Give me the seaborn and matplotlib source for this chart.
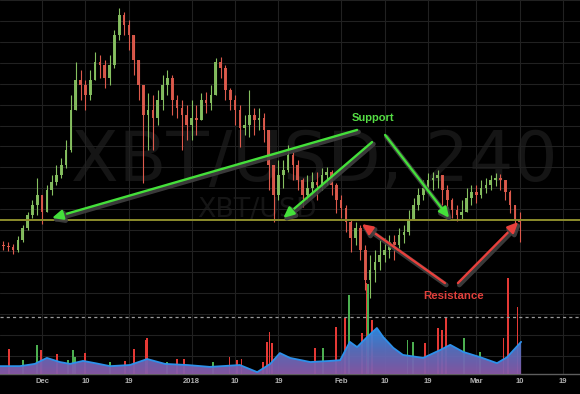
import numpy as np
import pandas as pd
import matplotlib
matplotlib.use("Agg")
import matplotlib.pyplot as plt
import matplotlib.patheffects as pe
from matplotlib.colors import LinearSegmentedColormap
import seaborn as sns

# ---------------- data (day 0 = 2017-12-01, daily candles, XBT/USD) ----------------
days = list(range(-9, 100))
close = [8290, 8240, 8190, 8050, 8530, 9100, 9720, 10200, 10680, 9870,
         10920, 11300, 11640, 12110, 12830, 14740, 16180, 15940, 15460, 16180,
         17040, 16890, 16270, 16890, 18330, 19280, 18800, 18330, 17130, 15940,
         14500, 14740, 14360, 15220, 15940, 16270, 15220, 14840, 14500, 14030,
         14360, 14260, 15220, 15080, 15460, 17040, 16750, 15700, 15220, 14740,
         13880, 14030, 14500, 14260, 14360, 13790, 12110, 10680, 11640, 11870,
         12590, 12110, 11400, 10680, 11010, 11300, 11160, 11640, 11780, 11160,
         10440, 10060, 9390, 8620, 9100, 8050, 6620, 7090, 7480, 7810,
         8050, 8430, 8290, 8770, 8910, 9480, 10200, 10680, 11010, 11400,
         11490, 11640, 10920, 10440, 9960, 9720, 9870, 10540, 10820, 10680,
         11010, 11160, 11400, 11490, 11400, 10820, 10200, 9480, 9390]
high = [8530, 8480, 8430, 8340, 8720, 9250, 9870, 10440, 11490, 10680,
        11160, 11640, 12110, 12450, 13310, 15460, 17040, 16650, 16180, 16650,
        17510, 17370, 17130, 17370, 18570, 19620, 19430, 19040, 18090, 17130,
        15940, 15550, 15460, 15700, 16410, 16650, 16410, 15460, 15220, 14980,
        15220, 14980, 15550, 15600, 15940, 17230, 17280, 16890, 15790, 15460,
        14980, 14500, 15700, 14840, 14840, 14600, 13310, 12110, 12350, 12350,
        13070, 12730, 12350, 11490, 11640, 11780, 11780, 11970, 12020, 11870,
        11250, 10680, 10200, 9480, 9390, 9250, 8290, 7810, 8050, 8530,
        8620, 8770, 8770, 9100, 9250, 9960, 10540, 11010, 11400, 11730,
        11780, 11870, 11490, 11160, 10540, 10200, 10440, 11010, 11160, 11160,
        11400, 11490, 11640, 11730, 11680, 11300, 10920, 10200, 9870]
low = [8050, 8050, 8000, 7860, 7950, 8430, 9010, 9580, 9720, 9290,
       9870, 10680, 11160, 11490, 11970, 12730, 14740, 15220, 14740, 15220,
       16180, 16270, 15790, 15940, 16750, 18090, 18330, 17610, 16410, 15220,
       11250, 12830, 12830, 14030, 14740, 15460, 14500, 14360, 12830, 13310,
       13310, 13550, 14360, 14600, 14740, 15460, 16270, 15220, 14740, 14030,
       12970, 13550, 13450, 13550, 13790, 13210, 10920, 9390, 10440, 11010,
       11780, 11400, 10920, 10100, 10440, 10680, 10440, 10920, 11160, 10680,
       9820, 9580, 8910, 7950, 8290, 7570, 6140, 5760, 6520, 7090,
       7480, 7670, 7570, 8150, 8380, 8770, 9580, 9960, 10440, 10770,
       10920, 11010, 10200, 9960, 9580, 9440, 9480, 10060, 10200, 10300,
       10540, 10770, 10920, 11110, 10920, 10440, 9820, 8910, 8430]
first_open = 8240

# volume moving average (area) and volume spikes
vol_ma_day = [-9, -4.6, -1.5, 1.0, 3.7, 5.8, 8.5, 11.0, 14.1, 18.2, 21.8, 25.5, 30.1,
              34.8, 41.0, 44.6, 47.3, 49.3, 51.4, 55.6, 59.7, 61.8, 63.8, 65.3, 67.4,
              69.4, 70.7, 72.8, 74.8, 79.0, 82.5, 84.6, 87.3, 90.8, 94.3, 96.4, 99.3]
vol_ma_val = [2.1, 2.1, 2.7, 4.3, 3.2, 2.7, 3.5, 2.9, 2.1, 2.4, 4.0, 2.7, 2.4,
              1.9, 2.4, 0.5, 2.7, 5.6, 4.3, 3.2, 3.5, 3.7, 8.6, 7.2, 9.9,
              12.3, 9.9, 7.0, 5.1, 4.3, 6.4, 7.8, 5.9, 4.5, 2.9, 4.5, 8.6]
vol_day = [-6.8, -3.9, -1.2, -1.0, -0.2, 3.1, 5.4, 6.4, 6.8, 8.9, 14.1, 17.2, 19.1,
           21.4, 21.8, 25.9, 28.0, 29.4, 35.4, 38.8, 40.4, 41.3, 45.8, 46.6, 47.1,
           47.7, 56.6, 58.2, 60.9, 62.8, 63.6, 66.3, 67.2, 67.6, 68.4, 75.7, 76.9,
           79.4, 82.1, 82.9, 83.7, 87.5, 90.8, 95.6, 96.6, 98.5]
vol_val = [6.7, 3.7, 7.2, 7.8, 6.4, 5.3, 3.7, 6.4, 4.5, 5.6, 3.2, 3.5, 6.7,
           9.1, 9.6, 3.2, 4.0, 4.0, 3.2, 4.5, 3.7, 4.0, 3.2, 8.6, 11.2,
           8.3, 7.0, 7.0, 12.6, 15.0, 21.1, 11.0, 24.3, 24.0, 14.4, 9.1, 8.6,
           8.3, 12.3, 11.8, 15.2, 9.6, 5.9, 9.6, 25.7, 17.9]
vol_up = [0, 1, 0, 1, 0, 0, 1, 1, 1, 0, 1, 0, 0,
          0, 0, 1, 0, 0, 1, 0, 0, 0, 0, 0, 0,
          0, 0, 1, 0, 0, 1, 0, 0, 1, 0, 1, 1,
          0, 0, 0, 0, 1, 1, 0, 0, 0]
vol_level = 15.2

support_price = 9480
tick_days = [0, 9, 18, 31, 40, 49, 62, 71, 80, 90, 99, 108]
tick_labels = ["Dec", "10", "19", "2018", "10", "19", "Feb", "10", "19", "Mar", "10", "19"]

# annotations: (tail_day, tail_price, head_day, head_price)
support_arrows = [(65.3, 13790, 2.07, 9580), (68.4, 13210, 50.0, 9580), (71.1, 13550, 84.4, 9580)]
resist_arrows = [(83.5, 6470, 66.3, 9290), (86.2, 6470, 98.7, 9390)]
support_label = (68.6, 14360, "Support")
resist_label = (85.2, 5850, "Resistance")

# ---------------- styling ----------------
sns.set_theme(style="dark", rc={"axes.facecolor": "black", "figure.facecolor": "black"})
plt.rcParams["font.family"] = ["DejaVu Sans"]

UP, DOWN = "#86c060", "#dd5a4c"
GRID = "#212121"

df = pd.DataFrame({"day": days, "close": close, "high": high, "low": low})
df["open"] = [first_open] + close[:-1]
df["high"] = df[["high", "open", "close"]].max(axis=1)
df["low"] = df[["low", "open", "close"]].min(axis=1)
cols = np.where(df["close"] >= df["open"], UP, DOWN)

fig = plt.figure(figsize=(5.8, 3.94), dpi=100, facecolor="black")
ax = fig.add_axes([0, 20 / 394, 1, 374 / 394])
ax.set_facecolor("black")
ax.set_xlim(-8.71, 111.5)
ax.set_ylim(2123, 20000)

# grid
ax.set_yticks(range(3000, 20001, 1000))
ax.set_xticks(tick_days)
ax.set_xticklabels(tick_labels)
ax.grid(True, color=GRID, lw=0.8)
ax.tick_params(axis="y", left=False, labelleft=False)
ax.tick_params(axis="x", length=0, pad=2.6, labelsize=5.5, labelcolor="#b0b0b0")
for lab in ax.get_xticklabels():
    lab.set_fontfamily("Liberation Sans")
    lab.set_fontweight("bold")
for s in ["top", "left", "right"]:
    ax.spines[s].set_visible(False)
ax.spines["bottom"].set_color("#5e5e5e")
ax.spines["bottom"].set_linewidth(1.0)

# watermarks
ax.text(56.4, 12300, "XBT/USD, 240", fontsize=50, color="#151515", ha="center", va="center", zorder=0)
ax.text(44.6, 9960, "XBT/USD", fontsize=19.4, color="#151515", ha="center", va="center", zorder=0)

# candles
ax.vlines(df["day"], df["low"], df["high"], colors=cols, lw=0.8, zorder=2)
body_h = (df["close"] - df["open"]).abs().clip(lower=40)
body_b = df[["open", "close"]].min(axis=1)
ax.bar(df["day"], body_h, bottom=body_b, width=0.55, color=cols, lw=0, zorder=3, alpha=0.95)

# support line
ax.axhline(support_price, color="#8c8c2c", lw=1.4, zorder=4)

# ---------------- volume overlay ----------------
axv = ax.twinx()
axv.set_ylim(0, 100)
axv.set_xlim(-8.71, 111.5)
axv.tick_params(axis="y", right=False, labelright=False)
for s in axv.spines.values():
    s.set_visible(False)
axv.bar(vol_day, vol_val, width=0.3, color=np.where(np.array(vol_up) == 1, "#4caf50", "#e53935"),
        lw=0, zorder=1)
poly = axv.fill_between(vol_ma_day, 0, vol_ma_val, color="none", lw=0)
clip = poly.get_paths()[0]
cmap = LinearSegmentedColormap.from_list("vol", ["#8a5aa8", "#5a70c0", "#2f8ee8"])
grad = np.linspace(0, 1, 256).reshape(-1, 1)
im = axv.imshow(grad, extent=[-9, 100, 0, 12.5], origin="lower", aspect="auto", cmap=cmap,
                zorder=2, alpha=0.95)
im.set_clip_path(clip, transform=axv.transData)
sns.lineplot(x=vol_ma_day, y=vol_ma_val, ax=axv, color="#2d90ea", lw=1.3, zorder=3)
axv.axhline(vol_level, color="#9a9a9a", lw=0.9, ls=(0, (2.5, 2.5)), zorder=3)
axv.set_xlim(-8.71, 111.5)
axv.set_ylim(0, 100)
axv.set_ylabel("")
axv.set_xlabel("")

# ---------------- annotations ----------------
def arrow(tx, ty, hx, hy, color):
    axv.annotate("", xy=(hx, hy), xytext=(tx, ty), xycoords=ax.transData, textcoords=ax.transData,
                 arrowprops=dict(arrowstyle="-|>,head_length=0.7,head_width=0.32", color=color, lw=1.7,
                                 shrinkA=0, shrinkB=0, mutation_scale=9,
                                 path_effects=[pe.SimpleLineShadow(offset=(1.0, -1.4), shadow_color="#404040",
                                                                   alpha=0.9, linewidth=3.4),
                                               pe.Normal()]),
                 zorder=6)

for a in support_arrows:
    arrow(*a, "#44e03a")
for a in resist_arrows:
    arrow(*a, "#e8403c")

axv.text(support_label[0], support_label[1], support_label[2], transform=ax.transData,
         fontsize=8, fontweight="bold", family="Liberation Sans", color="#55dd44",
         ha="center", va="center", zorder=7)
axv.text(resist_label[0], resist_label[1], resist_label[2], transform=ax.transData,
         fontsize=8.2, fontweight="bold", family="Liberation Sans", color="#e0403c",
         ha="center", va="center", zorder=7)

fig.savefig("out.png", dpi=100, facecolor="black")
